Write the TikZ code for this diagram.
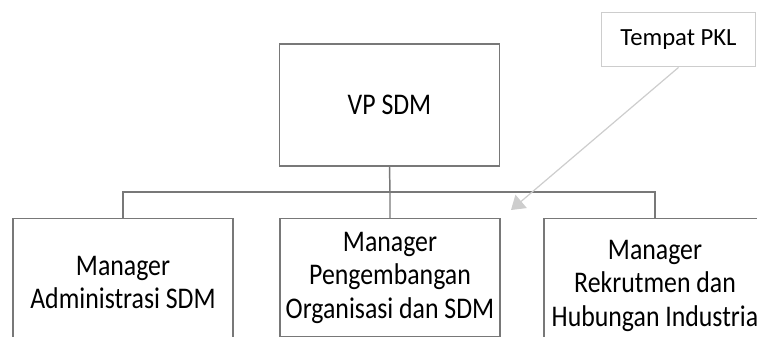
\documentclass[tikz,border=0pt]{standalone}
\usepackage{fontspec}
\setmainfont{Carlito}[FakeStretch=0.86]
\newfontfamily\notefont{Carlito}
\usetikzlibrary{arrows.meta}
\definecolor{boxgray}{HTML}{787878}
\definecolor{notegray}{HTML}{CDCDCD}
\begin{document}
\begin{tikzpicture}[
  x=0.75pt, y=-0.75pt,
  unit/.style={draw=boxgray, line width=1.1pt, align=center, inner sep=0pt,
    minimum width=165pt, font=\fontsize{22.5}{25}\selectfont},
  link/.style={draw=boxgray, line width=1.1pt},
  note/.style={draw=notegray, line width=0.9pt, minimum width=116pt,
    minimum height=41pt, font=\notefont\fontsize{18.5}{22}\selectfont},
  pointer/.style={draw=notegray, line width=0.9pt,
    -{Triangle[length=10pt,width=13pt]}},
]
  \clip (0,0) rectangle (757,336);
  \node[unit, minimum height=91.5pt] (vp) at (389.5,105) {VP SDM};
  \node[unit, anchor=north, minimum height=96pt] (admin) at (123,218)
    {Manager\\Administrasi SDM};
  \node[unit, anchor=north, minimum height=88.5pt] (orgdev) at (390,218)
    {Manager\\Pengembangan\\Organisasi dan SDM};
  \node[unit, anchor=north, minimum height=100.5pt, minimum width=166.5pt] (recruit) at (655,218)
    {Manager\\Rekrutmen dan\\Hubungan Industria};
  \node[note] (pkl) at (678.5,39.5) {Tempat PKL};
  \coordinate (bus) at (390,192);
  \coordinate (tip) at (511,210);
  \draw[link] (vp.south) -- (bus) -- (orgdev.north);
  \draw[link] (bus) -| (admin.north);
  \draw[link] (bus) -| (recruit.north);
  \draw[pointer] (pkl.south) -- (tip);
\end{tikzpicture}
\end{document}
